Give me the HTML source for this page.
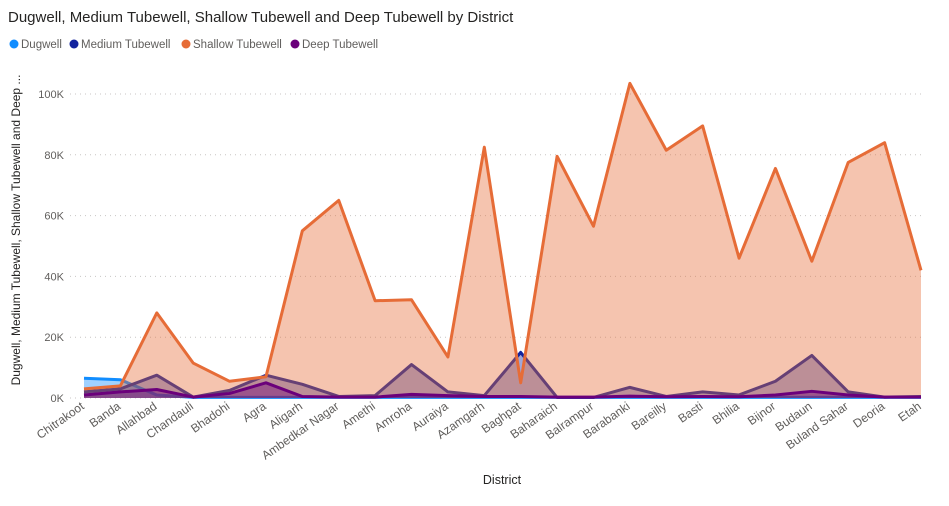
<!DOCTYPE html>
<html><head><meta charset="utf-8"><style>
body{margin:0;background:#fff;font-family:"Liberation Sans",sans-serif;}
svg text{font-family:"Liberation Sans",sans-serif;}
</style></head><body>
<svg id="chart" width="949" height="501">
<text x="8" y="22" font-size="15" fill="#252423">Dugwell, Medium Tubewell, Shallow Tubewell and Deep Tubewell by District</text>
<g font-size="11.5" fill="#605E5C">
<g><circle cx="14" cy="44" r="4.5" fill="#118DFF"/><text x="21" y="48">Dugwell</text></g>
<g><circle cx="74" cy="44" r="4.5" fill="#12239E"/><text x="81" y="48">Medium Tubewell</text></g>
<g><circle cx="186" cy="44" r="4.5" fill="#E66C37"/><text x="193" y="48">Shallow Tubewell</text></g>
<g><circle cx="295" cy="44" r="4.5" fill="#6B007B"/><text x="302" y="48">Deep Tubewell</text></g>
</g>
<text transform="translate(20,230) rotate(-90)" text-anchor="middle" font-size="12" fill="#252423">Dugwell, Medium Tubewell, Shallow Tubewell and Deep ...</text>
<text x="502" y="484" text-anchor="middle" font-size="12.5" fill="#252423">District</text>
<g id="grid"></g><g id="series"></g><g id="xlabels"></g>
</svg>
<script>
const categories=["Chitrakoot","Banda","Allahbad","Chandauli","Bhadohi","Agra","Aligarh","Ambedkar Nagar","Amethi","Amroha","Auraiya","Azamgarh","Baghpat","Baharaich","Balrampur","Barabanki","Bareilly","Basti","Bhilia","Bijnor","Budaun","Buland Sahar","Deoria","Etah"];
const dugwell=[6.5,6,1,0.2,0.2,0.2,0.2,0.2,0.2,0.2,0.2,0.2,0.2,0.2,0.2,0.2,0.2,0.2,0.2,0.2,0.2,0.2,0.2,0.2];
const medium=[2,3,7.5,0.3,2.5,7.5,4.5,0.5,0.8,11,2,0.8,15,0.2,0.2,3.5,0.5,2,1,5.5,14,2,0.3,0.5];
const shallow=[3,4,28,11.5,5.5,7,55,65,32,32.3,13.5,82.5,5,79.5,56.5,103.5,81.5,89.5,46,75.5,45,77.5,84,42];
const deep=[1,2,2.8,0.3,1.5,5,0.5,0.3,0.3,1.2,0.8,0.5,0.5,0.3,0.3,0.6,0.4,0.5,0.4,1,2.2,1,0.3,0.3];
const yTicks=[0,20,40,60,80,100];
const yTickLabels=["0K","20K","40K","60K","80K","100K"];
const NS="http://www.w3.org/2000/svg";
const x0=84,x1=921,y0=398,yScale=3.04;
function xPos(i){return x0+i*(x1-x0)/(categories.length-1);}
function yPos(v){return y0-v*yScale;}
function mk(t,a,p){const e=document.createElementNS(NS,t);for(const k in a)e.setAttribute(k,a[k]);p.appendChild(e);return e;}
const grid=document.getElementById('grid');
yTicks.forEach((v,i)=>{
 const l=mk('line',{x1:70,x2:925,y1:yPos(v),y2:yPos(v),stroke:'#C8C6C4','stroke-dasharray':'1 4'},grid);
 
 
 const t=mk('text',{x:64,y:yPos(v)+4,'text-anchor':'end','font-size':11,fill:'#605E5C'},grid);
 t.textContent=yTickLabels[i];
 
 
});
const sg=document.getElementById('series');
const defs=[["dugwell",dugwell,"#118DFF"],["medium-tubewell",medium,"#12239E"],["shallow-tubewell",shallow,"#E66C37"],["deep-tubewell",deep,"#6B007B"]];
defs.forEach(([name,vals,col])=>{
 let d=vals.map((v,i)=>(i?'L':'M')+xPos(i)+','+yPos(v)).join(' ');
 const a=mk('path',{d:d+` L${xPos(vals.length-1)},${y0} L${x0},${y0} Z`,fill:col,'fill-opacity':0.4},sg);
 
 
 const l=mk('path',{d:d,fill:'none',stroke:col,'stroke-width':3,'stroke-linejoin':'round'},sg);
 
 
});
const xl=document.getElementById('xlabels');
categories.forEach((c,i)=>{
 const t=mk('text',{transform:`translate(${xPos(i)+1},${y0+10}) rotate(-35)`,'text-anchor':'end','font-size':12,fill:'#605E5C'},xl);
 t.textContent=c;
 
 
});
</script>
</body></html>
